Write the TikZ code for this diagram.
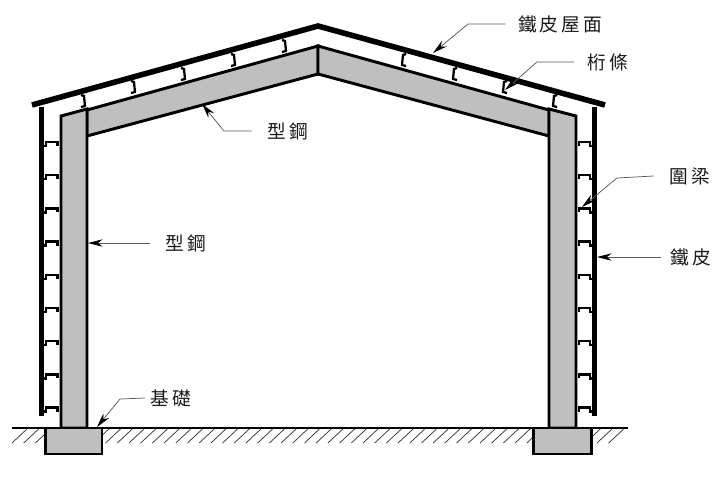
\documentclass[tikz,border=0pt]{standalone}
\usepackage{fontspec}
\newfontfamily\cjkfont{Noto Sans CJK TC}
\usetikzlibrary{arrows.meta}
\definecolor{steelgray}{gray}{0.75}
\tikzset{
  steelpart/.style={draw=black,fill=steelgray,line width=2.2pt,line join=miter},
  sheetline/.style={line width=4.2pt},
  girtline/.style={line width=1.7pt},
  leaderline/.style={draw=black!65,line width=0.55pt},
  leadertip/.style={-{Stealth[length=11pt,width=5.5pt,black]}},
  hatchline/.style={line width=0.55pt,black!80},
  callout/.style={font=\cjkfont\fontsize{14pt}{16pt}\selectfont,text=black!90,inner sep=0pt}
}
\begin{document}
\begin{tikzpicture}[x=0.75pt,y=-0.75pt]
\useasboundingbox (0,0) rectangle (718,479);
% Ground hatching
\foreach \x in {12,23.7,...,620} {
  \draw[hatchline] (\x,443) -- (\x+16,428);
}
\draw[line width=1.3pt] (12,428) -- (628,428);
% Frame, rafters first and then the columns
\draw[steelpart] (87,136) -- (87,110) -- (318,46) -- (318,74) -- cycle;
\draw[steelpart] (549,136) -- (549,110) -- (318,46) -- (318,74) -- cycle;
\draw[steelpart] (61,428) -- (61,116) -- (87,109) -- (87,428) -- cycle;
\draw[steelpart] (549,428) -- (549,109) -- (576,116) -- (576,428) -- cycle;
% Footings
\draw[steelpart] (45.5,428) rectangle (102,454);
\draw[steelpart] (533.5,428) rectangle (591.5,454);
% Roof and wall sheeting
\draw[sheetline] (32,105) -- (318,26) -- (605,105);
\draw[sheetline] (41.5,107) -- (41.5,416);
\draw[sheetline] (594.5,107) -- (594.5,416);
% Wall girts
\foreach \y in {142,175.2,208.4,241.6,274.8,308,341.2,374.4,407.6} {
  \draw[girtline] (44,\y+4) -- (46,\y+4) -- (46,\y) -- (57.5,\y) -- (57.5,\y+4);
  \draw[girtline] (592,\y+4) -- (590,\y+4) -- (590,\y) -- (579,\y) -- (579,\y+4);
}
% Purlins on the left slope
\foreach \x/\y in {81/94,131/80,181/67,231/53,282/39} {
  \draw[girtline] (\x,\y+1) -- (\x+3,\y+2) -- (\x+4,\y+12) -- (\x,\y+13);
}
% Purlins on the right slope
\foreach \x/\y in {406/53,457/67,507/80,557/94} {
  \draw[girtline] (\x,\y+1) -- (\x-3,\y+2) -- (\x-4,\y+12) -- (\x,\y+13);
}
% Labels
\node[callout] (roofsheet) at (560,24) {鐵\,皮\,屋\,面};
\node[callout] (purlin) at (608,62) {桁\,條};
\node[callout] (rafter) at (288,131) {型\,鋼};
\node[callout] (ringbeam) at (690,176) {圍\,梁};
\node[callout,anchor=west] (wallsheet) at (670,257) {鐵\,皮};
\node[callout] (column) at (186,243) {型\,鋼};
\node[callout] (footing) at (171,398) {基\,礎};
% Arrow ends
\coordinate (roofsheettip) at (433,53);
\coordinate (purlintip) at (505,90);
\coordinate (raftertip) at (202,104);
\coordinate (ringbeamtip) at (582,207);
\coordinate (wallsheettip) at (597,257);
\coordinate (columntip) at (88,243);
\coordinate (footingtip) at (97,427);
\coordinate (roofsheetbend) at (468,24);
\coordinate (purlinbend) at (537,62);
\coordinate (rafterbend) at (224,131);
\coordinate (ringbeambend) at (617,178);
\coordinate (footingbend) at (120,399);
% Leaders
\draw[leaderline,leadertip] ([xshift=-9pt]roofsheet.west) -- (roofsheetbend) -- (roofsheettip);
\draw[leaderline,leadertip] ([xshift=-10pt]purlin.west) -- (purlinbend) -- (purlintip);
\draw[leaderline,leadertip] ([xshift=-12pt]rafter.west) -- (rafterbend) -- (raftertip);
\draw[leaderline,leadertip] ([xshift=-12pt]ringbeam.west) -- (ringbeambend) -- (ringbeamtip);
\draw[leaderline,leadertip] ([xshift=-7pt]wallsheet.west) -- (wallsheettip);
\draw[leaderline,leadertip] ([xshift=-12pt]column.west) -- (columntip);
\draw[leaderline,leadertip] ([xshift=-4pt]footing.west) -- (footingbend) -- (footingtip);
\end{tikzpicture}
\end{document}
